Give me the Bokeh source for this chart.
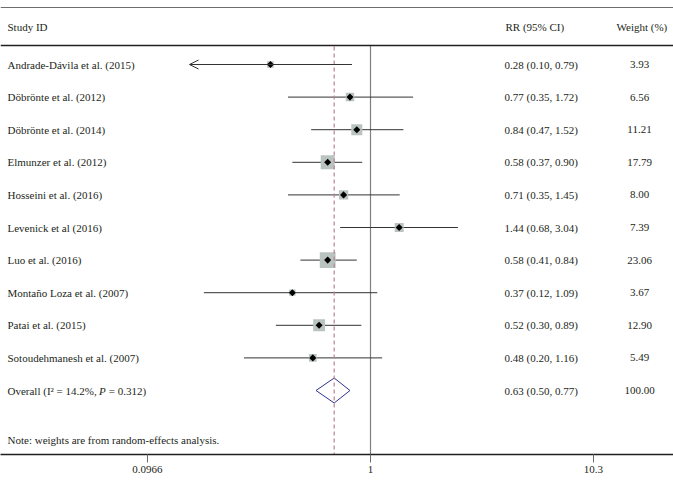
from bokeh.plotting import figure
from bokeh.models import (Range1d, LabelSet, Label, ColumnDataSource, Span,
                          Arrow, OpenHead, FixedTicker)
from bokeh.embed import file_html
from bokeh.resources import INLINE
import numpy as np

# ---------------- data ----------------
studies = ["Andrade-Dávila et al. (2015)", "Döbrönte et al. (2012)",
           "Döbrönte et al. (2014)", "Elmunzer et al. (2012)",
           "Hosseini et al. (2016)", "Levenick et al (2016)",
           "Luo et al. (2016)", "Montaño Loza et al. (2007)",
           "Patai et al. (2015)", "Sotoudehmanesh et al. (2007)"]
rr = [0.28, 0.77, 0.84, 0.58, 0.71, 1.44, 0.58, 0.37, 0.52, 0.48]
lci = [0.10, 0.35, 0.47, 0.37, 0.35, 0.68, 0.41, 0.12, 0.30, 0.20]
uci = [0.79, 1.72, 1.52, 0.90, 1.45, 3.04, 0.84, 1.09, 0.89, 1.16]
weight = [3.93, 6.56, 11.21, 17.79, 8.00, 7.39, 23.06, 3.67, 12.90, 5.49]
arrow_left = [True, False, False, False, False, False, False, False, False, False]

overall_rr = 0.63
overall_lci = 0.50
overall_uci = 0.77
overall_weight = 100.00

tick_values = [0.0586, 1.0, 17.06]
tick_labels = ["0.0966", "1", "10.3"]

# ---------------- layout ----------------
FONT = "Liberation Serif"
TXT = "#231f20"
FS = "11px"
NB = "\u00a0"
ROW0, ROWH = 64, 32.6
n = len(studies)
ys = [ROW0 + ROWH * i for i in range(n)]
y_overall = ROW0 + ROWH * n
y_header = 26
y_note = 439
W = 673
X_ONE = 370.0   # pixel position of RR = 1
PPD = 181.0     # pixels per decade

p = figure(width=W, frame_width=W, frame_height=454,
           x_axis_type="log",
           x_range=Range1d(10 ** (-X_ONE / PPD), 10 ** ((W - X_ONE) / PPD)),
           y_range=Range1d(454, 0), output_backend="svg",
           toolbar_location=None, min_border=0)
p.outline_line_color = None
p.grid.visible = False
p.yaxis.visible = False
p.background_fill_color = "white"

ax = p.xaxis[0]
ax.ticker = FixedTicker(ticks=tick_values)
ax.major_label_overrides = {v: s for v, s in zip(tick_values, tick_labels)}
ax.minor_tick_line_color = None
ax.axis_line_color = TXT
ax.axis_line_width = 1.3
ax.major_tick_line_color = "#6d6d6d"
ax.major_tick_out = 8
ax.major_tick_in = 0
ax.major_label_text_font = FONT
ax.major_label_text_font_size = FS
ax.major_label_text_color = TXT
ax.major_label_standoff = 3

# horizontal rules
p.add_layout(Span(location=7, dimension="width", line_color="#6d6d6d", line_width=1.2))
p.add_layout(Span(location=45, dimension="width", line_color=TXT, line_width=1.3))

# null line
p.segment(x0=[1], x1=[1], y0=[45], y1=[454], line_color="#7f7f7f", line_width=1.2)

# CI lines
seg_src = ColumnDataSource(dict(
    x0=[l for l, a in zip(lci, arrow_left) if not a],
    x1=[u for u, a in zip(uci, arrow_left) if not a],
    y=[y for y, a in zip(ys, arrow_left) if not a]))
p.segment(x0="x0", x1="x1", y0="y", y1="y", source=seg_src,
          line_color="#333333", line_width=1)
for l, u, y, a in zip(lci, uci, ys, arrow_left):
    if a:
        p.add_layout(Arrow(end=OpenHead(size=9, line_color="#333333", line_width=1),
                           x_start=u, x_end=l, y_start=y, y_end=y,
                           line_color="#333333", line_width=1))

# weight squares and point estimates
sq_src = ColumnDataSource(dict(x=rr, y=ys, s=list(np.sqrt(weight) * 3.3)))
p.scatter(x="x", y="y", size="s", marker="square", source=sq_src,
          fill_color="#b9c4c0", line_color=None)
p.scatter(x="x", y="y", size=5, marker="square", angle=np.pi / 4, source=sq_src,
          fill_color="black", line_color=None)

# overall diamond
p.patch(x=[overall_lci, overall_rr, overall_uci, overall_rr],
        y=[y_overall, y_overall - 12.5, y_overall, y_overall + 12.5],
        fill_color="white", line_color="#2e3192", line_width=1)

# pooled estimate dashed line
p.segment(x0=[overall_rr], x1=[overall_rr], y0=[46], y1=[454],
          line_color="#b5838f", line_width=1.2, line_dash="4 3")

# text columns
lab_src = ColumnDataSource(dict(
    y=ys,
    study=studies,
    ci=[f"{r:.2f} ({l:.2f}, {u:.2f})" for r, l, u in zip(rr, lci, uci)],
    w=[f"{w:.2f}" for w in weight]))
common = dict(text_font=FONT, text_font_size=FS, text_color=TXT,
              text_baseline="middle", x_units="screen", source=lab_src)
p.add_layout(LabelSet(x=7, y="y", text="study", text_align="left", **common))
p.add_layout(LabelSet(x=504, y="y", text="ci", text_align="left", **common))
p.add_layout(LabelSet(x=639, y="y", text="w", text_align="center", **common))

def lab(x, y, t, align="left", style="normal"):
    p.add_layout(Label(x=x, y=y, x_units="screen", text=t, text_align=align,
                       text_baseline="middle", text_font=FONT,
                       text_font_size=FS, text_color=TXT,
                       text_font_style=style))

lab(7, y_header, "Study ID")
lab(505, y_header, "RR (95% CI)")
lab(616, y_header, "Weight (%)")
lab(7, y_overall, "Overall (I² = 14.2%,")
lab(98.5, y_overall, "P", style="italic")
lab(105.5, y_overall, NB + "= 0.312)")
lab(504, y_overall, f"{overall_rr:.2f} ({overall_lci:.2f}, {overall_uci:.2f})")
lab(639, y_overall, f"{overall_weight:.2f}", align="center")
lab(7, y_note, "Note: weights are from random-effects analysis.")

open("out.html", "w").write(file_html(p, INLINE))
